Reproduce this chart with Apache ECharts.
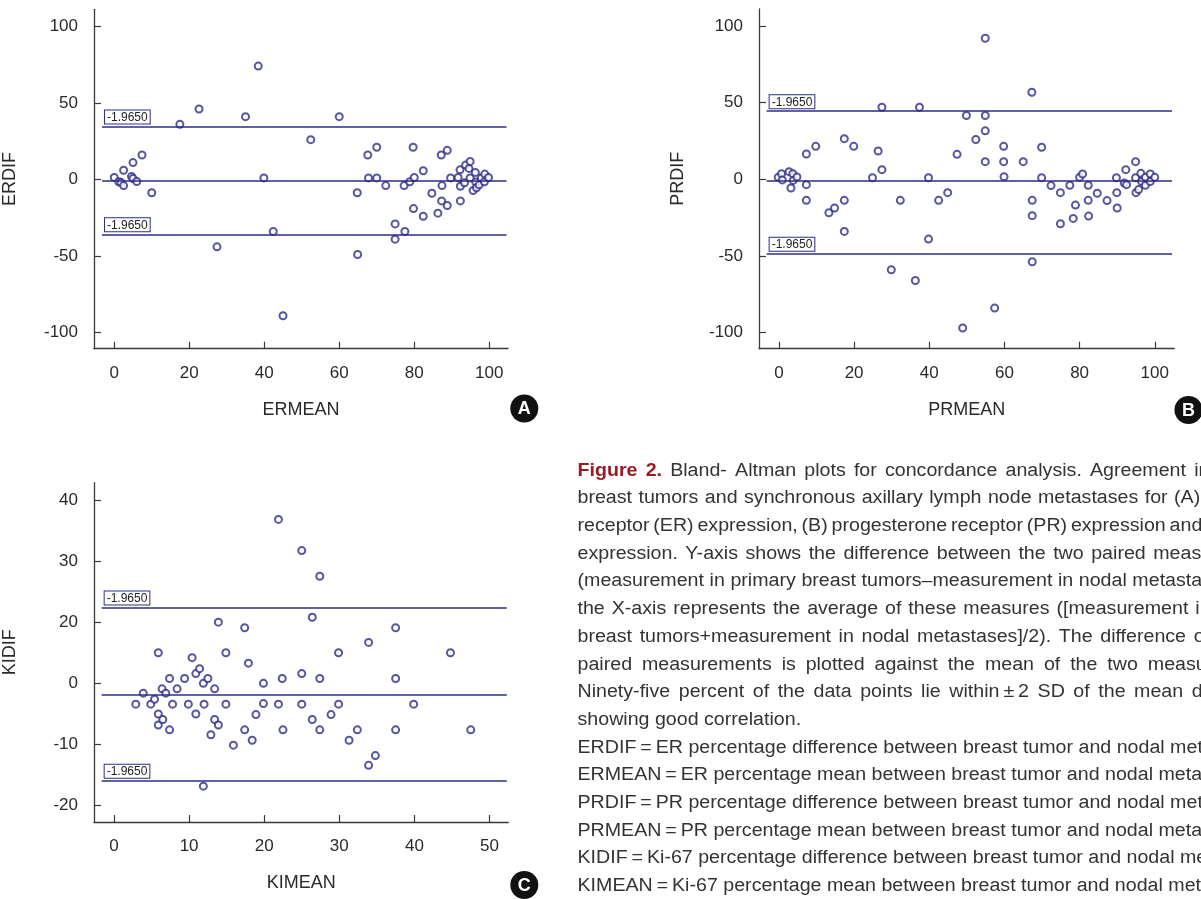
<!DOCTYPE html>
<html><head><meta charset="utf-8">
<script src="https://cdn.jsdelivr.net/npm/echarts@6/dist/echarts.min.js"></script>
<style>html,body{margin:0;padding:0;background:#fff}#c{width:1201px;height:899px}</style>
</head><body><div id="c"></div>
<script>
// ---- Panel A: ER ----
const erMean = [0,1.2,1.8,2.5,2.5,4.6,5,5,6,7.4,10,17.5,22.6,27.4,35,38.4,39.9,42.4,45,52.4,60,64.8,64.9,67.6,67.8,70,70,72.4,74.9,74.9,77.3,77.5,78.8,79.7,79.8,80,82.4,82.4,84.7,86.3,87.2,87.3,87.4,88.8,88.8,89.7,91.7,92.2,92.3,92.3,93.4,93.7,94.6,94.9,94.9,95.7,96.3,96.4,96.6,97.3,97.9,98.7,98.8,99.8];
const erDif = [1.3,-1.5,-2,-4,6,2,0.6,11,-1.3,16,-8.7,36,46,-44,41,74,1,-34,-89,26,41,-8.7,-49,16,1,21,1,-4,-29,-39,-4,-34,-1.5,21,-19,1.3,5.7,-24,-9,-22,16,-14,-4,19,-17,1,1.3,6.3,-14,-4.4,-2.2,9.4,7.2,11.8,1,-7.2,4.6,-1.7,-5.4,-3.5,1,-1.5,3.5,1.3];
const erLimits = [34.5, -0.7, -35.8]; // upper, mean, lower

// ---- Panel B: PR ----
const prMean = [-0.2,0.7,0.9,2.7,3.2,3.7,3.8,4.8,7.3,7.3,7.3,9.8,13.3,14.8,17.4,17.4,17.4,19.9,24.9,26.4,27.4,27.4,29.9,32.3,36.3,37.4,39.8,39.8,42.5,44.9,47.4,48.9,49.9,52.4,54.9,54.9,54.9,54.9,57.4,59.8,59.8,59.9,65,67.3,67.4,67.4,67.4,69.9,69.9,72.4,74.9,74.9,77.4,78.3,78.9,80,80.8,82.3,82.3,82.4,84.7,87.3,89.8,89.9,90,91.9,92.3,92.5,94.9,94.9,95,95.7,96.3,96.5,97.5,97.5,98.8,98.8,100];
const prDif = [1.3,3.7,-0.4,5,-5.7,3.7,-0.7,1.5,16.5,-3.5,-13.7,21.5,-21.8,-18.7,26.5,-13.7,-34,21.5,1,18.5,6.3,47,-59,-13.7,-66,47,1,-39,-13.7,-8.7,16.3,-97,41.6,26,92,41.6,31.6,11.5,-84,21.5,11.5,1.7,11.5,56.8,-13.7,-23.7,-53.8,20.9,1,-4.1,-8.7,-29,-3.9,-25.5,-16.8,1.3,3.5,-3.9,-13.7,-24,-9.1,-13.9,1,-8.7,-18.7,-2.4,6.3,-3.5,11.5,1,-8.7,-6.7,3.9,-1.5,1.3,-3.9,3.5,-1.5,1.3];
const prLimits = [44.4, -1.0, -48.5];

// ---- Panel C: Ki-67 ----
const kiMean = [2.9,3.9,4.9,5.4,5.9,5.9,5.9,6.4,6.5,6.9,7.4,7.4,7.8,8.4,9.4,9.9,10.4,10.9,10.9,11.4,11.9,12,11.9,12.5,12.9,13.4,13.4,13.9,13.9,14.9,14.9,15.9,17.4,17.4,17.9,18.4,18.9,19.9,19.9,21.9,21.9,22.4,22.5,25,25,25,26.4,26.4,27.4,27.4,27.4,28.9,29.9,29.9,31.3,32.4,33.9,33.9,34.8,37.5,37.5,37.5,39.9,44.8,47.5];
const kiDif = [-3.4,-1.6,-3.4,-2.6,5,-5,-6.8,-0.9,-5.9,-1.6,0.8,-7.6,-3.4,-0.9,0.8,-3.4,4.2,1.6,-5,2.4,0,-3.4,-16.8,0.8,-8.4,-0.9,-5.9,10,-6.8,5,-3.4,-10.1,9.1,-7.6,3.3,-9.3,-5.1,0,-3.3,26.8,-3.4,0.8,-7.6,21.7,1.6,-3.4,10.8,-5.9,17.5,0.8,-7.6,-5.1,5,-3.4,-9.3,-7.6,6.7,-13.4,-11.8,9.1,0.8,-7.6,-3.4,5,-7.6];
const kiLimits = [12.4, -1.8, -15.9];

// tick values and labels
const abXTicks = [0,20,40,60,80,100];
const abYTicks = [-100,-50,0,50,100];
const cXTicks = [0,10,20,30,40,50];
const cYTicks = [-20,-10,0,10,20,30];
const cYTickLabels = ['-20','-10','0','20','30','40'];
const limitLabel = '-1.9650';

const captionLines = [
  'Figure 2. Bland- Altman plots for concordance analysis. Agreement in primary',
  'breast tumors and synchronous axillary lymph node metastases for (A) estrogen',
  'receptor (ER) expression, (B) progesterone receptor (PR) expression and (C) Ki-67',
  'expression. Y-axis shows the difference between the two paired measurements',
  '(measurement in primary breast tumors\u2013measurement in nodal metastases), and',
  'the X-axis represents the average of these measures ([measurement in primary',
  'breast tumors+measurement in nodal metastases]/2). The difference of the two',
  'paired measurements is plotted against the mean of the two measurements.',
  'Ninety-five percent of the data points lie within\u2009\u00b1\u20092 SD of the mean difference,',
  'showing good correlation.',
  'ERDIF\u2009=\u2009ER percentage difference between breast tumor and nodal metastases;',
  'ERMEAN\u2009=\u2009ER percentage mean between breast tumor and nodal metastases;',
  'PRDIF\u2009=\u2009PR percentage difference between breast tumor and nodal metastases;',
  'PRMEAN\u2009=\u2009PR percentage mean between breast tumor and nodal metastases;',
  'KIDIF\u2009=\u2009Ki-67 percentage difference between breast tumor and nodal metastases;',
  'KIMEAN\u2009=\u2009Ki-67 percentage mean between breast tumor and nodal metastases.'
];
const captionLeadWords = 2;      // "Figure 2." in red bold
const captionJustifiedLines = 9; // lines of the justified paragraph (last line not justified)

const FONT = '"Liberation Sans", Arial, Helvetica, sans-serif';
const AX = '#3a3a3a';
const MK = '#2d2c86';

const grids = [
  {left: 93, top: 9.3, width: 415, height: 339.4},
  {left: 759, top: 9, width: 415.3, height: 339.7},
  {left: 93.3, top: 482.7, width: 415, height: 339.3}
];
const xRanges = [[-5.4, 105], [-5.3, 105.2], [-2.66, 52.5]];
const yRanges = [[-110.5, 111.1], [-110.5, 111.1], [-22.66, 32.8]];
const lineSpans = [[-3.27, 104.6], [-3.27, 104.6], [-1.64, 52.3]];
const xNames = ['ERMEAN', 'PRMEAN', 'KIMEAN'];
const yNames = ['ERDIF', 'PRDIF', 'KIDIF'];
const yNameGaps = [75, 72, 75];

function xAxis(i, ticks) {
  return {
    type: 'value', gridIndex: i, min: xRanges[i][0], max: xRanges[i][1],
    name: xNames[i], nameLocation: 'middle', nameGap: 52,
    nameTextStyle: {fontFamily: FONT, fontSize: 18, color: '#2a2a2a'},
    axisLine: {show: true, onZero: false, lineStyle: {color: AX, width: 1.3}},
    axisTick: {show: true, inside: true, length: 7, customValues: ticks, lineStyle: {color: AX, width: 1.2}},
    axisLabel: {customValues: ticks, fontFamily: FONT, fontSize: 17, color: '#2a2a2a', margin: 16},
    splitLine: {show: false}
  };
}
function yAxis(i, ticks, fmt) {
  return {
    type: 'value', gridIndex: i, min: yRanges[i][0], max: yRanges[i][1],
    name: yNames[i], nameLocation: 'middle', nameGap: yNameGaps[i], nameRotate: 90,
    nameTextStyle: {fontFamily: FONT, fontSize: 18, color: '#2a2a2a'},
    axisLine: {show: true, onZero: false, lineStyle: {color: AX, width: 1.3}},
    axisTick: {show: true, inside: true, length: 7, customValues: ticks, lineStyle: {color: AX, width: 1.2}},
    axisLabel: {customValues: ticks, fontFamily: FONT, fontSize: 17, color: '#2a2a2a', margin: 16, formatter: fmt},
    splitLine: {show: false}
  };
}
function limitLines(i, lims) {
  const span = lineSpans[i];
  const lab = {show: true, position: 'insideStartTop', formatter: limitLabel, fontFamily: FONT, fontSize: 12,
    color: '#222', backgroundColor: '#fff', borderColor: MK, borderWidth: 1, padding: [1, 2, 0, 2], distance: 3};
  return lims.map((v, k) => [
    {coord: [span[0], v], label: k === 1 ? {show: false} : lab},
    {coord: [span[1], v]}
  ]);
}
function scatter(i, xs, ys, lims) {
  return {
    type: 'scatter', xAxisIndex: i, yAxisIndex: i,
    data: xs.map((x, k) => [x, ys[k]]),
    symbol: 'emptyCircle', symbolSize: 7,
    itemStyle: {color: MK, borderColor: MK, borderWidth: 1},
    silent: true, z: 3,
    markLine: {silent: true, symbol: 'none', animation: false,
      lineStyle: {color: MK, width: 1.5, type: 'solid'},
      data: limitLines(i, lims)}
  };
}

const graphics = [];
[[524.3, 408.5, 'A'], [1188.5, 410, 'B'], [524.3, 885, 'C']].forEach(b => {
  graphics.push({type: 'circle', shape: {cx: b[0], cy: b[1], r: 14}, style: {fill: '#111'}, z: 10});
  graphics.push({type: 'text', x: b[0], y: b[1] + 1, z: 11,
    style: {text: b[2], fill: '#fff', font: 'bold 18px ' + FONT, align: 'center', verticalAlign: 'middle'}});
});

// caption: justified paragraph, word by word
const CAP_X = 577.5, CAP_RIGHT = 1283, CAP_Y0 = 470.7, CAP_DY = 27.7, CAP_SX = 1.09;
const mctx = document.createElement('canvas').getContext('2d');
function mw(t, bold) { mctx.font = (bold ? 'bold ' : '') + '18px "Liberation Sans", Arial, sans-serif'; return mctx.measureText(t).width; }
captionLines.forEach((line, k) => {
  const words = line.split(' ');
  const isLead = i => k === 0 && i < captionLeadWords;
  const ws = words.map((w, i) => mw(w, isLead(i)) * CAP_SX);
  const total = ws.reduce((a, b) => a + b, 0);
  const gap = (k < captionJustifiedLines && words.length > 1)
    ? (CAP_RIGHT - CAP_X - total) / (words.length - 1)
    : mw(' ', false) * CAP_SX;
  let x = CAP_X;
  words.forEach((w, i) => {
    graphics.push({type: 'text', x: x, y: CAP_Y0 + k * CAP_DY, scaleX: CAP_SX, z: 10,
      style: {text: w, fill: isLead(i) ? '#9b1b22' : '#333',
        font: (isLead(i) ? 'bold ' : '') + '18px ' + FONT, align: 'left', verticalAlign: 'middle'}});
    x += ws[i] + gap;
  });
});

const chart = echarts.init(document.getElementById('c'), null, {renderer: 'canvas'});
chart.setOption({
  animation: false,
  backgroundColor: '#fff',
  grid: grids,
  xAxis: [xAxis(0, abXTicks), xAxis(1, abXTicks), xAxis(2, cXTicks)],
  yAxis: [yAxis(0, abYTicks), yAxis(1, abYTicks),
    yAxis(2, cYTicks, v => { const k = cYTicks.indexOf(Math.round(v)); return k >= 0 ? cYTickLabels[k] : ''; })],
  series: [scatter(0, erMean, erDif, erLimits), scatter(1, prMean, prDif, prLimits), scatter(2, kiMean, kiDif, kiLimits)],
  graphic: graphics
});
</script></body></html>
